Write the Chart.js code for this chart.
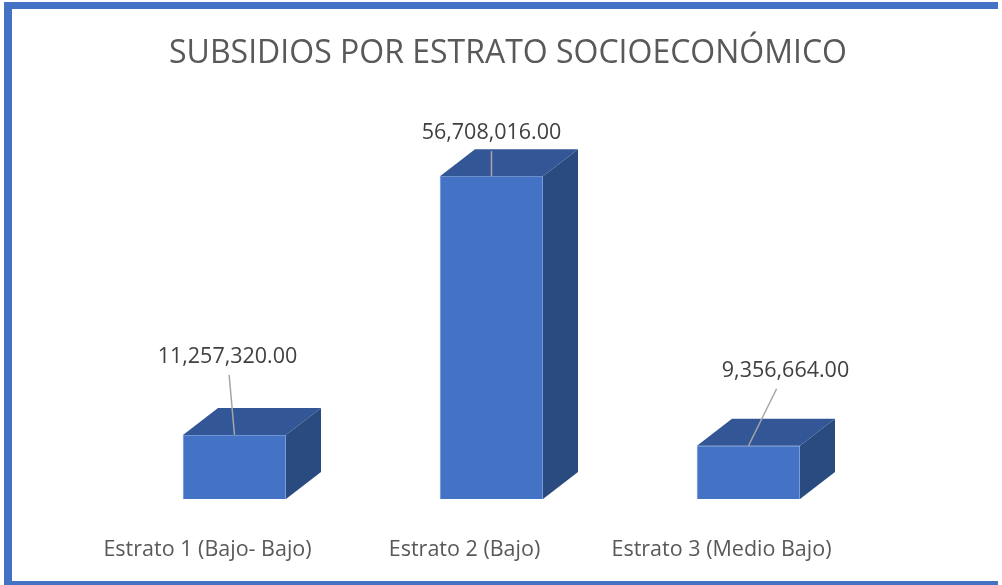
<!DOCTYPE html>
<html>
<head>
<meta charset="UTF-8">
<title>Subsidios por estrato socioeconómico</title>
<script src="https://cdn.jsdelivr.net/npm/chart.js"></script>
<style>
    html, body { margin: 0; padding: 0; background: #ffffff; overflow: hidden; }
    .marco-izq { position: absolute; left: 4px; top: 2px; width: 8px; height: 583px; background: #4472C4; }
    .marco-sup { position: absolute; left: 4px; top: 2px; width: 994px; height: 7px; background: #4472C4; }
    .marco-inferior { position: absolute; left: 4px; top: 581px; width: 994px; height: 4px; background: #4472C4; }
    .chart-box { position: absolute; left: 0; top: 0; width: 1002px; height: 585px; }
</style>
</head>
<body>
<div class="marco-izq"></div>
<div class="marco-sup"></div>
<div class="marco-inferior"></div>
<div class="chart-box"><canvas id="subsidiosChart" width="1002" height="585"></canvas></div>
<script>
    // datos del gráfico
    const categorias = ['Estrato 1 (Bajo- Bajo)', 'Estrato 2 (Bajo)', 'Estrato 3 (Medio Bajo)'];
    const subsidios = [11257320.00, 56708016.00, 9356664.00];
    const tituloGrafico = 'SUBSIDIOS POR ESTRATO SOCIOECONÓMICO';

    // profundidad 3D y posición de las etiquetas (desplazamiento desde la cara frontal)
    const fondo = { dx: 35, dy: 27 };
    const posEtiquetas = [[-7, -78], [0, -43], [37, -75]];

    const formato = v => v.toLocaleString('en-US', { minimumFractionDigits: 2, maximumFractionDigits: 2 });

    const barras3d = {
        id: 'barras3d',
        afterDatasetsDraw(chart) {
            const ctx = chart.ctx;
            const meta = chart.getDatasetMeta(0);
            ctx.save();
            meta.data.forEach((bar, i) => {
                const x0 = bar.x - bar.width / 2;
                const x1 = bar.x + bar.width / 2;
                const top = bar.y;
                const base = bar.base;
                // cara superior
                ctx.fillStyle = '#335796';
                ctx.beginPath();
                ctx.moveTo(x0, top);
                ctx.lineTo(x0 + fondo.dx, top - fondo.dy);
                ctx.lineTo(x1 + fondo.dx, top - fondo.dy);
                ctx.lineTo(x1, top);
                ctx.closePath();
                ctx.fill();
                // cara lateral
                ctx.fillStyle = '#2A4B80';
                ctx.beginPath();
                ctx.moveTo(x1, top);
                ctx.lineTo(x1 + fondo.dx, top - fondo.dy);
                ctx.lineTo(x1 + fondo.dx, base - fondo.dy);
                ctx.lineTo(x1, base);
                ctx.closePath();
                ctx.fill();

                // etiqueta con línea guía
                const lx = bar.x + posEtiquetas[i][0];
                const ly = top + posEtiquetas[i][1];
                const sy = ly + 18;
                const sx = lx + (bar.x - lx) * (sy - ly) / (top - ly);
                ctx.strokeStyle = '#A6A6A6';
                ctx.lineWidth = 1.5;
                ctx.beginPath();
                ctx.moveTo(sx, sy);
                ctx.lineTo(bar.x, top);
                ctx.stroke();

                ctx.fillStyle = '#404040';
                ctx.font = '21.5px "Open Sans"';
                ctx.textAlign = 'center';
                ctx.textBaseline = 'middle';
                ctx.fillText(formato(subsidios[i]), lx, ly);
            });
            ctx.restore();
        }
    };

    const ctx = document.getElementById('subsidiosChart').getContext('2d');
    const chart = new Chart(ctx, {
        type: 'bar',
        data: {
            labels: categorias,
            datasets: [{
                label: 'Subsidios',
                data: subsidios,
                backgroundColor: '#4472C4',
                borderColor: 'rgba(140,170,225,0.9)',
                borderWidth: 1,
                barThickness: 103
            }]
        },
        options: {
            responsive: false,
            animation: false,
            layout: { padding: { left: 106, right: 92, top: 0, bottom: 0 } },
            plugins: {
                legend: { display: false },
                tooltip: { enabled: false },
                title: {
                    display: true,
                    text: tituloGrafico,
                    color: '#595959',
                    font: { family: 'Open Sans', size: 32, weight: 'normal', lineHeight: 1.2 },
                    padding: { top: 35, bottom: 84 }
                }
            },
            scales: {
                x: {
                    grid: { display: false, drawTicks: false },
                    border: { display: false },
                    ticks: {
                        color: '#595959',
                        font: { family: 'Open Sans', size: 21.5 },
                        padding: 38,
                        labelOffset: -27,
                        maxRotation: 0
                    },
                    afterFit(scale) { scale.height = 86; }
                },
                y: {
                    position: 'right',
                    min: 0,
                    max: 60000000,
                    grid: { display: false, drawTicks: false },
                    border: { display: false },
                    ticks: { display: false },
                    afterFit(scale) { scale.width = 33; }
                }
            }
        },
        plugins: [barras3d]
    });
</script>
</body>
</html>
